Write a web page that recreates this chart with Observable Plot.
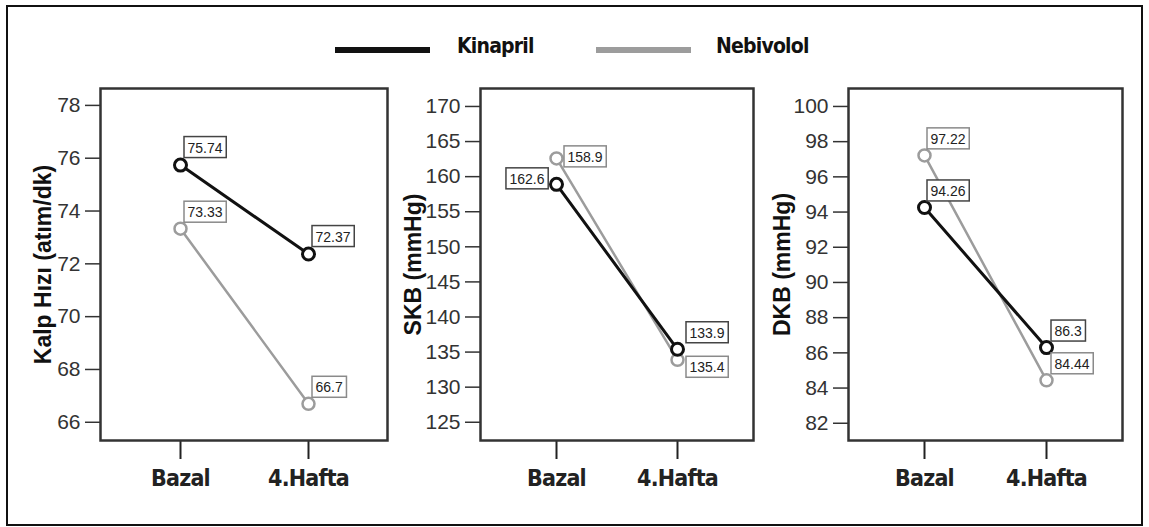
<!DOCTYPE html>
<html><head><meta charset="utf-8">
<script src="https://cdn.jsdelivr.net/npm/d3@7"></script>
<script src="https://cdn.jsdelivr.net/npm/@observablehq/plot@0.6"></script>
<style>
body{margin:0;background:#fff;}
#wrap{position:relative;width:1149px;height:527px;overflow:hidden;background:#fff;}
#border{position:absolute;left:6px;top:5px;width:1137px;height:521px;border:2px solid #111;box-sizing:border-box;}
.panel{position:absolute;top:0;}
.panel svg{overflow:visible;background:transparent;}
.panel svg g[aria-label="x-axis tick label"] text{letter-spacing:-0.8px;}
.lg-line{position:absolute;height:6px;}
.lg-text{position:absolute;font-family:"Liberation Sans Narrow","Arial Narrow","DejaVu Sans Condensed",sans-serif;font-weight:bold;font-size:21px;letter-spacing:-0.8px;line-height:1;color:#111;}
</style></head>
<body><div id="wrap"><div id="border"></div><div id="legend"></div></div>
<script>
// ---- data ----
const timepoints = ["Bazal", "4.Hafta"];
const seriesNames = ["Kinapril", "Nebivolol"];

const hrKinapril = [75.74, 72.37];
const hrNebivolol = [73.33, 66.7];
const hrKinaprilLabels = ["75.74", "72.37"];
const hrNebivololLabels = ["73.33", "66.7"];
const hrTicks = [66, 68, 70, 72, 74, 76, 78];

const skbKinapril = [158.9, 135.4];
const skbNebivolol = [162.6, 133.9];
const skbKinaprilLabels = ["162.6", "133.9"];
const skbNebivololLabels = ["158.9", "135.4"];
const skbTicks = [125, 130, 135, 140, 145, 150, 155, 160, 165, 170];

const dkbKinapril = [94.26, 86.3];
const dkbNebivolol = [97.22, 84.44];
const dkbKinaprilLabels = ["94.26", "86.3"];
const dkbNebivololLabels = ["97.22", "84.44"];
const dkbTicks = [82, 84, 86, 88, 90, 92, 94, 96, 98, 100];

const yTitles = ["Kalp Hızı (atım/dk)", "SKB (mmHg)", "DKB (mmHg)"];

// ---- styles ----
const NARROW = '"Liberation Sans Narrow","Arial Narrow","DejaVu Sans Condensed",sans-serif';
const SANS = '"Liberation Sans",Arial,sans-serif';
const colors = {Kinapril: "#111111", Nebivolol: "#9c9c9c"};
const widths = {Kinapril: 3, Nebivolol: 2.5};
const boxStroke = {Kinapril: "#444", Nebivolol: "#8a8a8a"};

// legend
const legend = document.getElementById("legend");
const lgPos = [{line: 335, text: 457}, {line: 596, text: 716}];
seriesNames.forEach((s, i) => {
  const l = document.createElement("div");
  l.className = "lg-line";
  l.style.left = lgPos[i].line + "px"; l.style.top = "47px"; l.style.width = "95px";
  l.style.background = colors[s];
  legend.appendChild(l);
  const t = document.createElement("div");
  t.className = "lg-text";
  t.style.left = lgPos[i].text + "px"; t.style.top = "36px";
  t.textContent = s;
  legend.appendChild(t);
});

function rows(k, n, kl, nl) {
  const out = [];
  timepoints.forEach((t, i) => out.push({series: "Kinapril", time: t, value: k[i], label: kl[i], idx: i}));
  timepoints.forEach((t, i) => out.push({series: "Nebivolol", time: t, value: n[i], label: nl[i], idx: i}));
  return out;
}

const panels = [
  {data: rows(hrKinapril, hrNebivolol, hrKinaprilLabels, hrNebivololLabels), ticks: hrTicks,
   domain: [65.31, 78.64], left: 0, width: 392, titleDx: -57,
   off: {Kinapril: [[7, -17, "start"], [7, -17, "start"]], Nebivolol: [[7, -16, "start"], [7, -16, "start"]]}},
  {data: rows(skbKinapril, skbNebivolol, skbKinaprilLabels, skbNebivololLabels), ticks: skbTicks,
   domain: [122.4, 172.56], left: 380, width: 378, titleDx: -67,
   off: {Kinapril: [[-12, -5, "end"], [12, -16, "start"]], Nebivolol: [[11, -1, "start"], [12, 8, "start"]]}},
  {data: rows(dkbKinapril, dkbNebivolol, dkbKinaprilLabels, dkbNebivololLabels), ticks: dkbTicks,
   domain: [81.02, 101.02], left: 748, width: 379, titleDx: -66,
   off: {Kinapril: [[6, -16, "start"], [8, -16, "start"]], Nebivolol: [[6, -16, "start"], [8, -16, "start"]]}}
];

const wrap = document.getElementById("wrap");

panels.forEach((p, pi) => {
  const labelMarks = p.data.map(d => {
    const [dx, dy, anchor] = p.off[d.series][d.idx];
    return Plot.text([d], {x: "time", y: "value", text: "label", dx, dy, textAnchor: anchor, lineAnchor: "middle",
      fontSize: 14, fontFamily: SANS, fill: "#222", className: "lbl-" + d.series});
  });
  const order = ["Nebivolol", "Kinapril"];
  const svg = Plot.plot({
    width: p.width, height: 500,
    marginLeft: 100, marginRight: 5, marginTop: 88, marginBottom: 60,
    style: {background: "transparent", overflow: "visible"},
    x: {type: "point", domain: timepoints, padding: 0.62},
    y: {domain: p.domain},
    marks: [
      Plot.axisY({ticks: p.ticks, tickSize: 15, tickPadding: 5, fontSize: 21, fontFamily: SANS, color: "#333", strokeWidth: 1.5, label: null}),
      Plot.axisX({tickSize: 19, tickPadding: 10, fontSize: 23, fontWeight: "bold", fontFamily: NARROW, color: "#222", strokeWidth: 2, label: null}),
      Plot.text([yTitles[pi]], {frameAnchor: "left", text: d => d, rotate: -90, dx: p.titleDx, fontSize: 23, fontWeight: "bold",
        fontFamily: SANS, fill: "#111", textAnchor: "middle", lineAnchor: "middle"}),
      ...order.map(s => Plot.line(p.data.filter(d => d.series === s), {x: "time", y: "value", stroke: colors[s], strokeWidth: widths[s]})),
      ...order.map(s => Plot.dot(p.data.filter(d => d.series === s), {x: "time", y: "value", r: 6, stroke: colors[s], strokeWidth: widths[s], fill: "white"})),
      Plot.frame({stroke: "#333", strokeWidth: 2.5}),
      ...labelMarks
    ]
  });
  const div = document.createElement("div");
  div.className = "panel";
  div.style.left = p.left + "px";
  div.appendChild(svg);
  wrap.appendChild(div);
  seriesNames.forEach(s => {
    svg.querySelectorAll("g.lbl-" + s + " text").forEach(t => {
      const bb = t.getBBox();
      const r = document.createElementNS("http://www.w3.org/2000/svg", "rect");
      r.setAttribute("x", bb.x - 3.5);
      r.setAttribute("y", bb.y - 3);
      r.setAttribute("width", bb.width + 7);
      r.setAttribute("height", bb.height + 5);
      const tr = t.getAttribute("transform");
      if (tr) r.setAttribute("transform", tr);
      r.setAttribute("fill", "white");
      r.setAttribute("stroke", boxStroke[s]);
      r.setAttribute("stroke-width", 1.5);
      t.parentNode.insertBefore(r, t);
    });
  });
});
</script>
</body></html>
